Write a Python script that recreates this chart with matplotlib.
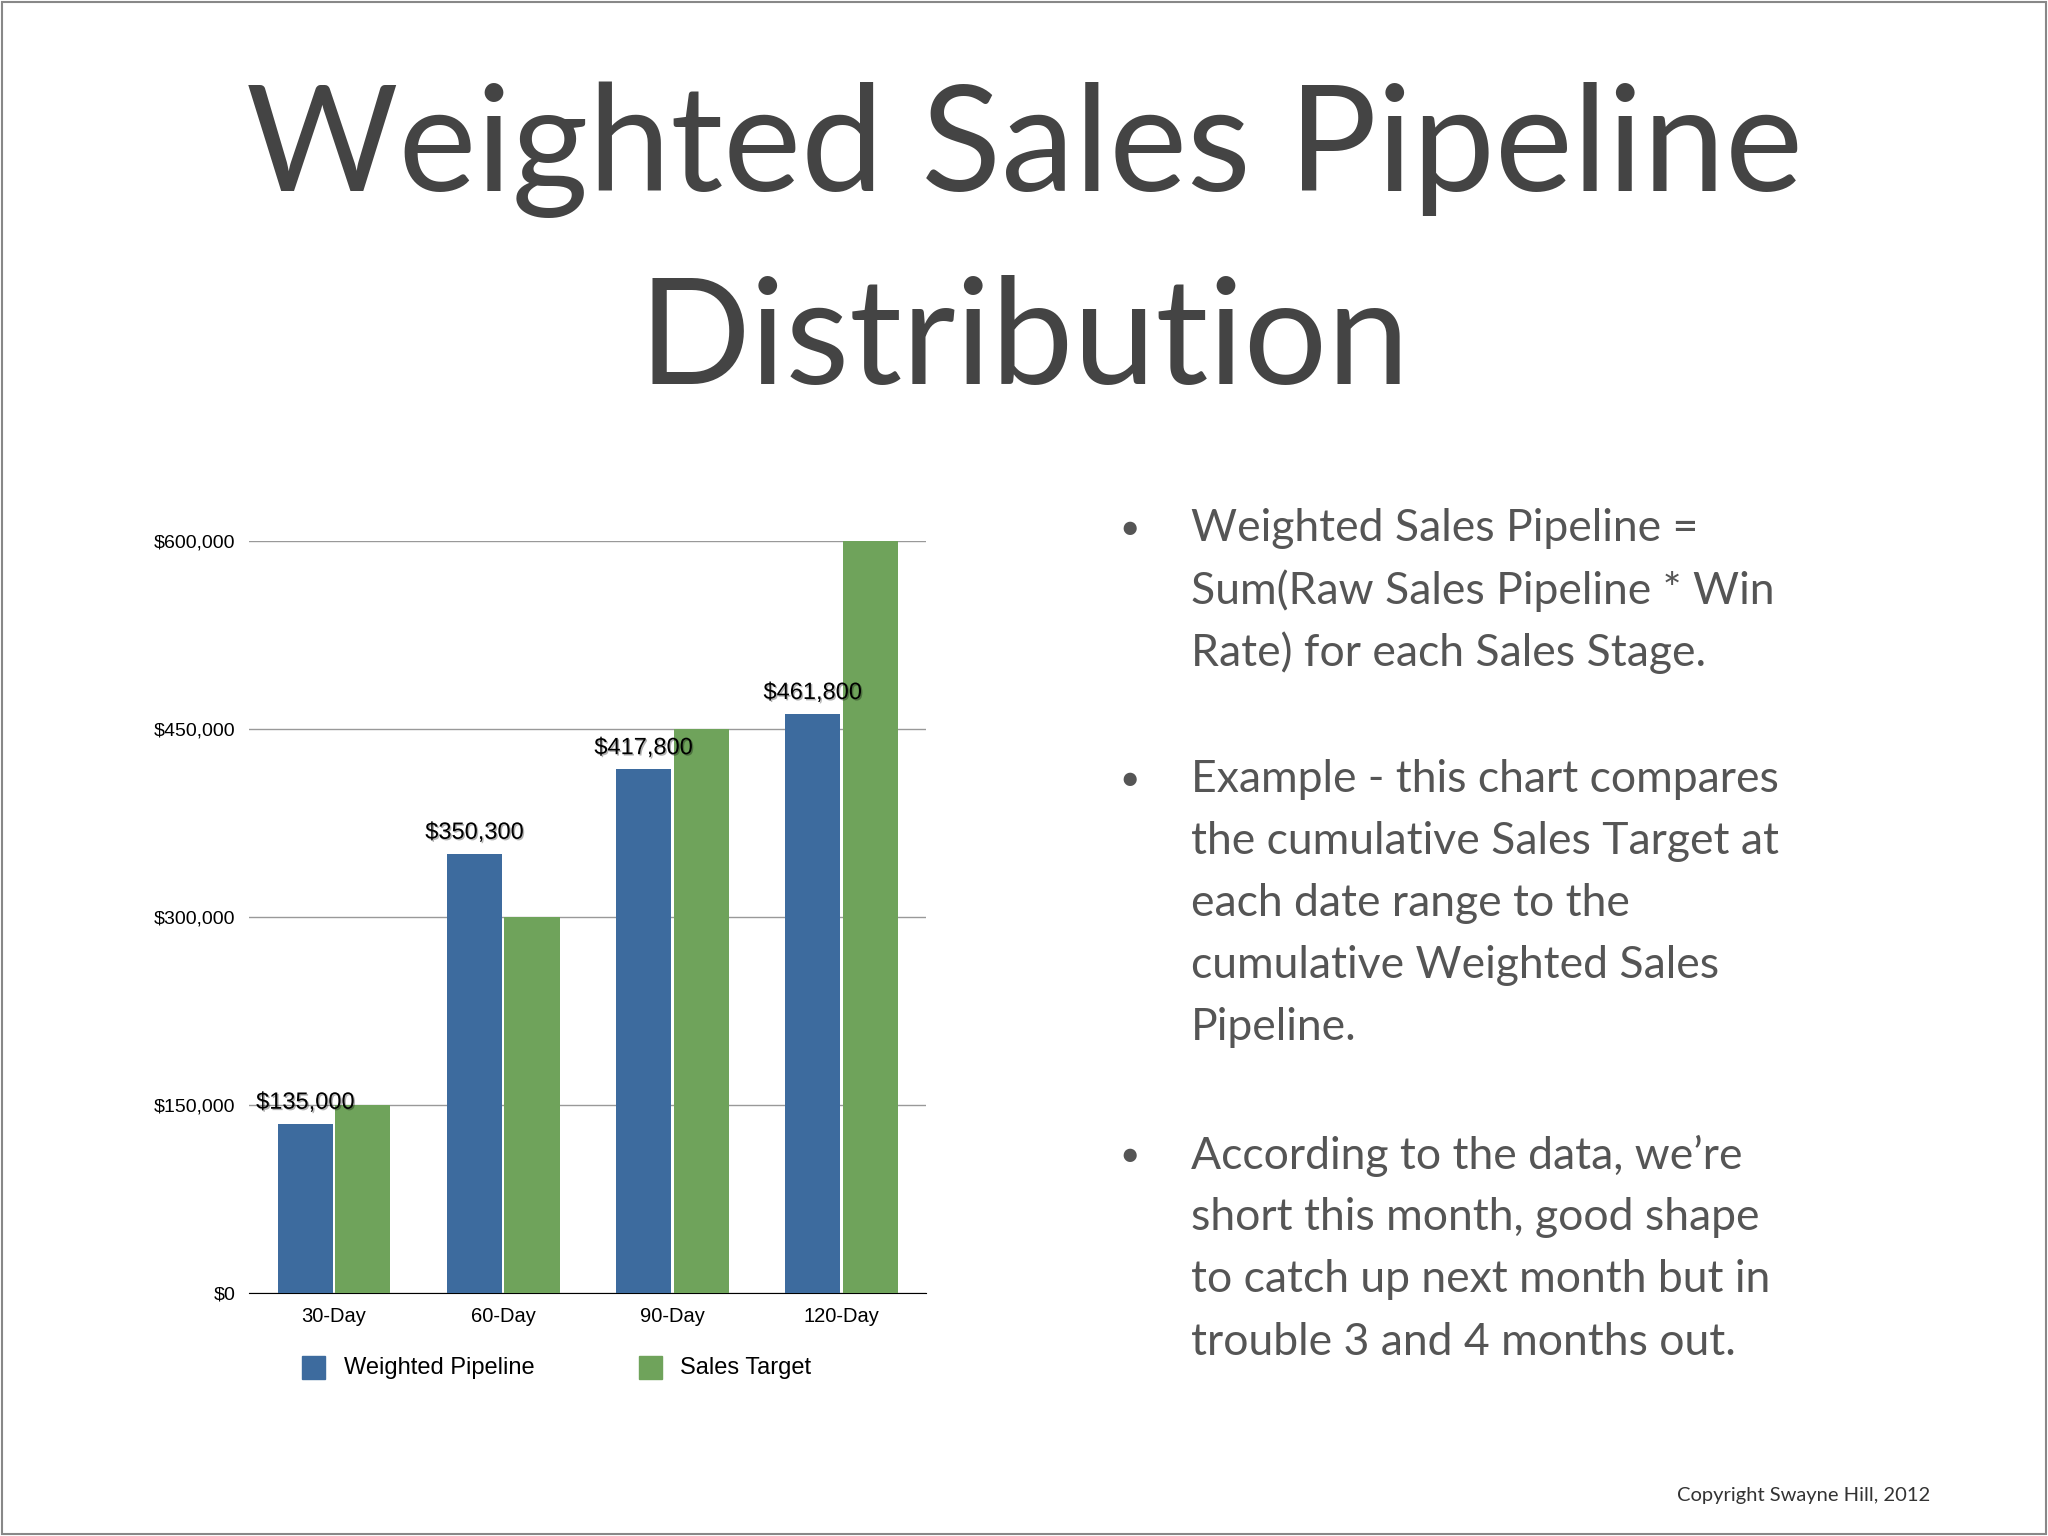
import matplotlib
matplotlib.use("Agg")
import matplotlib.pyplot as plt
import matplotlib.patheffects as pe
import numpy as np

categories = ["30-Day", "60-Day", "90-Day", "120-Day"]
weighted = [135000, 350300, 417800, 461800]
target = [150000, 300000, 450000, 600000]
yticks = [0, 150000, 300000, 450000, 600000]

plt.rcParams["font.family"] = "Liberation Sans"

W, H = 1568, 1176
fig = plt.figure(figsize=(20.48, 15.36), dpi=100)
fig.patches.append(plt.Rectangle((0.001, 0.001), 0.998, 0.998, transform=fig.transFigure,
                                 fill=False, edgecolor="#888888", lw=1.5))

fig.text(0.5, 1 - 115 / H, "Weighted Sales Pipeline", ha="center", va="center",
         fontsize=106, color="#444444", family="Lato")
fig.text(0.5, 1 - 262 / H, "Distribution", ha="center", va="center",
         fontsize=106, color="#444444", family="Lato")

ax = fig.add_axes([191 / W, (H - 990) / H, 518 / W, 576 / H])
x = np.arange(len(categories))
w = 0.326
ax.bar(x - 0.17, weighted, w, color="#3d6b9e", zorder=3)
ax.bar(x + 0.17, target, w, color="#6fa35b", zorder=3)
for xi, v in zip(x, weighted):
    ax.text(xi - 0.17, v + 8000, f"${v:,}", ha="center", va="bottom", fontsize=17,
            color="black", zorder=4,
            path_effects=[pe.withSimplePatchShadow(offset=(1, -1), alpha=0.3)])
ax.set_xlim(-0.5, 3.5)
ax.set_ylim(0, 600000)
ax.set_yticks(yticks)
ax.set_yticklabels([f"${v:,}" for v in yticks], fontsize=14)
ax.set_xticks(x)
ax.set_xticklabels(categories, fontsize=14.5)
ax.grid(axis="y", color="#999999", lw=1, zorder=0)
for s in ["top", "right", "left"]:
    ax.spines[s].set_visible(False)
ax.spines["bottom"].set_color("black")
ax.tick_params(length=0, pad=10)

# legend
fig.patches.append(plt.Rectangle((231 / W, 1 - 1056 / H), 18 / W, 18 / H,
                                 transform=fig.transFigure, color="#3d6b9e"))
fig.text(263 / W, 1 - 1047 / H, "Weighted Pipeline", va="center", fontsize=17)
fig.patches.append(plt.Rectangle((489 / W, 1 - 1056 / H), 18 / W, 18 / H,
                                 transform=fig.transFigure, color="#6fa35b"))
fig.text(521 / W, 1 - 1047 / H, "Sales Target", va="center", fontsize=17)

bullets = [
    (405, ["Weighted Sales Pipeline =", "Sum(Raw Sales Pipeline * Win",
           "Rate) for each Sales Stage."]),
    (597, ["Example - this chart compares", "the cumulative Sales Target at",
           "each date range to the", "cumulative Weighted Sales", "Pipeline."]),
    (885, ["According to the data, we\u2019re", "short this month, good shape",
           "to catch up next month but in", "trouble 3 and 4 months out."]),
]
for y0, lines in bullets:
    fig.text(865 / W, 1 - y0 / H, "\u25cf", ha="center", va="center", fontsize=22, color="#555555")
    for i, line in enumerate(lines):
        fig.text(912 / W, 1 - (y0 + i * 47.5) / H, line, va="center", fontsize=32,
                 color="#555555", family="Lato")

fig.text(1478 / W, 1 - 1145 / H, "Copyright Swayne Hill, 2012", ha="right", va="center",
         fontsize=14.5, color="#333333", family="Lato")

fig.savefig("out.png", dpi=100, facecolor="white")
